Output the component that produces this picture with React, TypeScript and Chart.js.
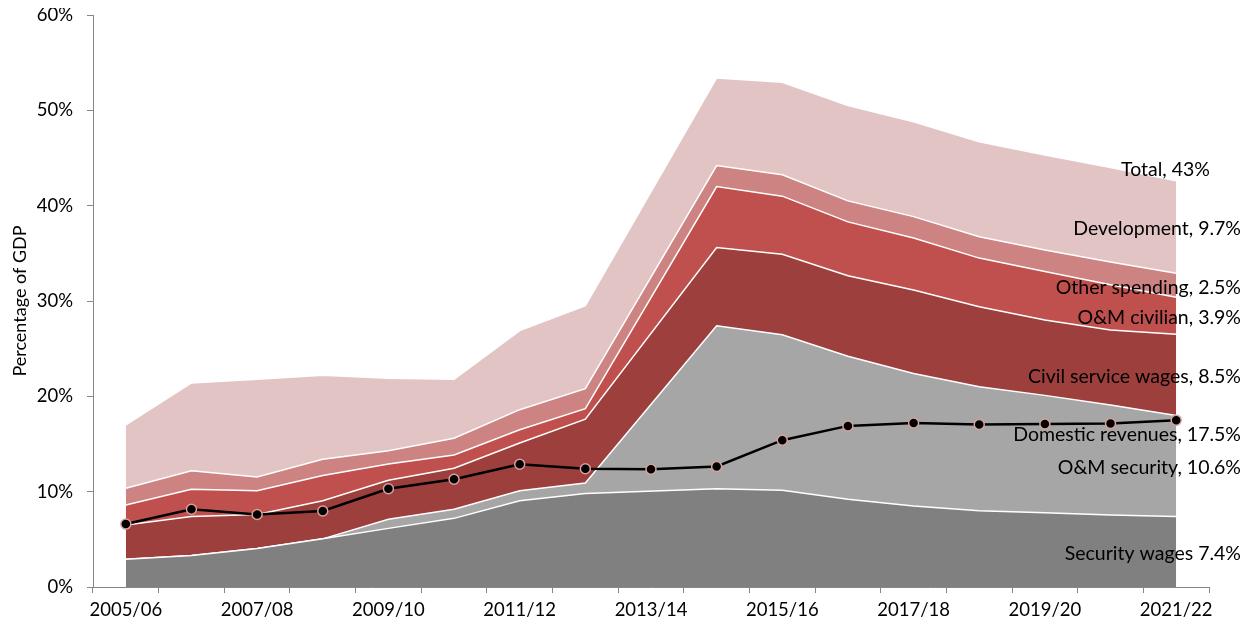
import { useEffect, useRef } from 'react';
import { Chart, registerables } from 'chart.js';

Chart.register(...registerables);

const categories = [
  '2005/06', '2006/07', '2007/08', '2008/09', '2009/10', '2010/11', '2011/12', '2012/13', '2013/14',
  '2014/15', '2015/16', '2016/17', '2017/18', '2018/19', '2019/20', '2020/21', '2021/22',
];

// Stacked spending components (percentage of GDP); 2013/14 is not reported for the areas
const securityWages = [2.9, 3.3, 4.05, 5.05, 6.15, 7.2, 9.05, 9.8, null, 10.3, 10.15, 9.2, 8.5, 8.0, 7.8, 7.55, 7.4];
const omSecurity = [0, 0, 0, 0, 0.95, 0.95, 1.05, 1.1, null, 17.1, 16.3, 15.0, 13.9, 13.0, 12.3, 11.55, 10.6];
const civilServiceWages = [3.6, 4.1, 3.55, 4.0, 4.1, 4.3, 5.0, 6.7, null, 8.2, 8.45, 8.45, 8.75, 8.4, 7.9, 7.85, 8.5];
const omCivilian = [2.1, 2.85, 2.5, 2.65, 1.7, 1.4, 1.4, 1.1, null, 6.4, 6.1, 5.65, 5.45, 5.1, 5.1, 4.75, 3.9];
const otherSpending = [1.75, 1.95, 1.45, 1.7, 1.4, 1.75, 2.1, 2.1, null, 2.2, 2.25, 2.2, 2.25, 2.25, 2.25, 2.4, 2.5];
const development = [6.65, 9.2, 10.25, 8.8, 7.6, 6.2, 8.3, 8.7, null, 9.2, 9.7, 10.0, 9.95, 9.95, 9.95, 9.9, 9.7];

const domesticRevenues = [6.6, 8.15, 7.6, 7.97, 10.3, 11.3, 12.87, 12.4, 12.35, 12.65, 15.4, 16.9, 17.2, 17.05, 17.1, 17.15, 17.5];

const yTicks = [0, 10, 20, 30, 40, 50, 60];

const areaSeries = [
  { name: 'Security wages', label: 'Security wages 7.4%', data: securityWages, color: '#808080' },
  { name: 'O&M security', label: 'O&M security, 10.6%', data: omSecurity, color: '#a6a6a6' },
  { name: 'Civil service wages', label: 'Civil service wages, 8.5%', data: civilServiceWages, color: '#9d3f3d' },
  { name: 'O&M civilian', label: 'O&M civilian, 3.9%', data: omCivilian, color: '#c0504d' },
  { name: 'Other spending', label: 'Other spending, 2.5%', data: otherSpending, color: '#cd8381' },
  { name: 'Development', label: 'Development, 9.7%', data: development, color: '#e2c4c4' },
];
const totalLabel = 'Total, 43%';
const revenueLabel = 'Domestic revenues, 17.5%';

const FONT = 'Lato, "Open Sans", sans-serif';
const FONT_SIZE = 18.5;
const LABEL_FONT_SIZE = 19.5;

const endLabels = {
  id: 'endLabels',
  afterDatasetsDraw(chart: any) {
    const ctx = chart.ctx;
    const right = chart.chartArea.right;
    const yScale = chart.scales.y;
    const last = categories.length - 1;
    ctx.save();
    ctx.font = `${LABEL_FONT_SIZE}px ${FONT}`;
    ctx.fillStyle = '#000';
    ctx.textAlign = 'right';
    ctx.textBaseline = 'middle';
    let prevY = yScale.getPixelForValue(0);
    areaSeries.forEach((s, i) => {
      const pt = chart.getDatasetMeta(i).data[last];
      const mid = (pt.y + prevY) / 2;
      ctx.fillText(s.label, right + 32, mid + 2);
      prevY = pt.y;
    });
    ctx.fillText(totalLabel, right + 1, prevY - 11);
    const rp = chart.getDatasetMeta(areaSeries.length).data[last];
    ctx.fillText(revenueLabel, right + 32, rp.y + 15);
    ctx.restore();
  },
};

export default function App() {
  const ref = useRef<HTMLCanvasElement | null>(null);

  useEffect(() => {
    if (!ref.current) return;
    const datasets: any[] = areaSeries.map((s, i) => ({
      type: 'line',
      label: s.name,
      data: s.data,
      stack: 'areas',
      fill: i === 0 ? 'origin' : '-1',
      backgroundColor: s.color,
      borderColor: '#ffffff',
      borderWidth: 1.5,
      pointRadius: 0,
      spanGaps: true,
      tension: 0,
    }));
    datasets.push({
      type: 'line',
      label: 'Domestic revenues',
      data: domesticRevenues,
      stack: 'revenues',
      fill: false,
      order: -1,
      borderColor: '#000000',
      borderWidth: 2.5,
      pointRadius: 5,
      pointBackgroundColor: '#000000',
      pointBorderColor: '#d9a09e',
      pointBorderWidth: 1.5,
      tension: 0,
    });

    const chart = new Chart(ref.current, {
      type: 'line',
      data: { labels: categories, datasets },
      plugins: [endLabels],
      options: {
        responsive: false,
        animation: false,
        events: [],
        layout: { padding: { top: 7, right: 35, bottom: 0, left: 0 } },
        plugins: { legend: { display: false }, tooltip: { enabled: false } },
        scales: {
          x: {
            type: 'category',
            offset: true,
            grid: {
              display: true,
              drawOnChartArea: false,
              drawTicks: true,
              tickLength: 6,
              color: '#868686',
              offset: true,
            },
            border: { display: true, color: '#868686', width: 1 },
            ticks: {
              autoSkip: false,
              maxRotation: 0,
              minRotation: 0,
              padding: 6,
              color: '#000',
              font: { family: FONT, size: FONT_SIZE },
              callback: (_v: any, i: number) => (i % 2 === 0 ? categories[i] : ''),
            },
            afterFit: (scale: any) => {
              scale.height = 32;
              scale.paddingLeft = 0;
              scale.paddingRight = 0;
            },
          },
          y: {
            stacked: true,
            min: yTicks[0],
            max: yTicks[yTicks.length - 1],
            grid: {
              display: true,
              drawOnChartArea: false,
              drawTicks: true,
              tickLength: 6,
              color: '#868686',
            },
            border: { display: true, color: '#868686', width: 1 },
            ticks: {
              stepSize: 10,
              padding: 14,
              color: '#000',
              font: { family: FONT, size: FONT_SIZE },
              callback: (v: any) => `${v}%`,
            },
            title: {
              display: true,
              text: 'Percentage of GDP',
              color: '#000',
              font: { family: FONT, size: 18 },
              padding: { top: 1, bottom: 0 },
            },
            afterFit: (scale: any) => {
              scale.width = 85;
              scale.paddingTop = 0;
              scale.paddingBottom = 0;
            },
          },
        },
      },
    } as any);
    return () => chart.destroy();
  }, []);

  return (
    <div style={{ width: 1236, height: 611 }}>
      <canvas ref={ref} width={1236} height={611} style={{ display: 'block' }} />
    </div>
  );
}
